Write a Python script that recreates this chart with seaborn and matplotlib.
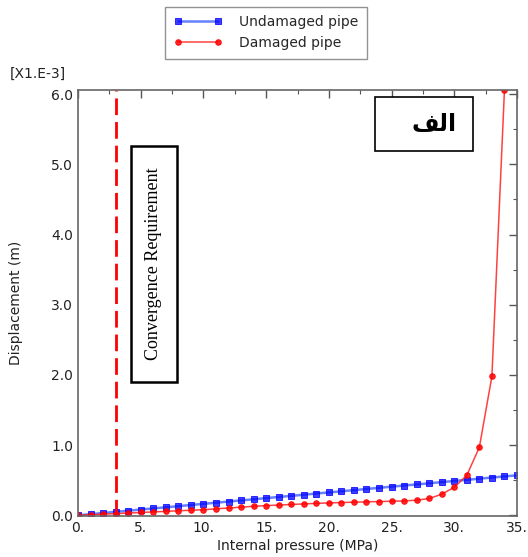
import matplotlib
matplotlib.use("Agg")
import matplotlib.pyplot as plt
from matplotlib.patches import Rectangle
from matplotlib.ticker import MultipleLocator, FixedLocator, FixedFormatter
import seaborn as sns
import pandas as pd

sns.set_theme(style="white")
plt.rcParams["font.family"] = ["DejaVu Sans"]

# Internal pressure (MPa) and displacement (x1e-3 m)
pressure_undamaged = list(range(0, 36))
disp_undamaged = [0.000, 0.016, 0.033, 0.049, 0.065, 0.082, 0.098, 0.114, 0.130,
                  0.147, 0.163, 0.179, 0.196, 0.212, 0.228, 0.245, 0.261, 0.277,
                  0.293, 0.310, 0.326, 0.342, 0.359, 0.375, 0.391, 0.408, 0.424,
                  0.440, 0.456, 0.473, 0.489, 0.505, 0.522, 0.538, 0.554, 0.570]

pressure_damaged = list(range(0, 35))
disp_damaged = [0.000, 0.008, 0.016, 0.024, 0.032, 0.040, 0.048, 0.056, 0.064,
                0.072, 0.080, 0.092, 0.104, 0.116, 0.128, 0.138, 0.146, 0.154,
                0.162, 0.170, 0.176, 0.182, 0.187, 0.192, 0.196, 0.200, 0.205,
                0.215, 0.240, 0.300, 0.400, 0.570, 0.970, 1.980, 6.060]

convergence_pressure = 3.0

x_ticks = [0, 5, 10, 15, 20, 25, 30, 35]
x_tick_labels = ["0.", "5.", "10.", "15.", "20.", "25.", "30.", "35."]
y_ticks = [0, 1, 2, 3, 4, 5, 6]
y_tick_labels = ["0.0", "1.0", "2.0", "3.0", "4.0", "5.0", "6.0"]

df_u = pd.DataFrame({"p": pressure_undamaged, "d": disp_undamaged})
df_d = pd.DataFrame({"p": pressure_damaged, "d": disp_damaged})

fig = plt.figure(figsize=(5.28, 5.57), dpi=100)
ax = fig.add_axes([78 / 528, 1 - 516 / 557, (517 - 78) / 528, (516 - 90) / 557])

sns.lineplot(data=df_u, x="p", y="d", ax=ax, color="#3355ff", linewidth=1.8,
             alpha=0.75, marker="s", markersize=4.2, markerfacecolor="#0000ff",
             markeredgecolor="#0000ff", label="Undamaged pipe", clip_on=True)
sns.lineplot(data=df_d, x="p", y="d", ax=ax, color="#ff2020", linewidth=1.1,
             alpha=0.85, marker="o", markersize=4.0, markerfacecolor="#ff0000",
             markeredgecolor="#ff0000", label="Damaged pipe", clip_on=True)

ax.axvline(convergence_pressure, color="#ff0000", linestyle=(0, (6, 2.5)),
           linewidth=2.0)

ax.set_xlim(0, 35)
ax.set_ylim(-0.01, 6.06)
ax.xaxis.set_major_locator(FixedLocator(x_ticks))
ax.xaxis.set_major_formatter(FixedFormatter(x_tick_labels))
ax.yaxis.set_major_locator(FixedLocator(y_ticks))
ax.yaxis.set_major_formatter(FixedFormatter(y_tick_labels))
ax.xaxis.set_minor_locator(MultipleLocator(2.5))
ax.yaxis.set_minor_locator(MultipleLocator(0.5))
ax.tick_params(which="both", direction="in", top=True, right=True,
               color="#555555", labelsize=10, labelcolor="#222222")
ax.tick_params(which="major", length=6, width=1)
ax.tick_params(which="minor", length=3, width=0.8)
for s in ax.spines.values():
    s.set_color("#666666")
    s.set_linewidth(1.2)

ax.set_xlabel("Internal pressure (MPa)", fontsize=10, color="#222222", labelpad=3)
ax.set_ylabel("Displacement (m)", fontsize=10, color="#222222", labelpad=20)

fig.text(10 / 528, 1 - 74 / 557, "[X1.E-3]", fontsize=10, color="#222222",
         va="center", ha="left")

# Annotation boxes
ax.add_patch(Rectangle((4.2, 1.9), 3.7, 3.36, facecolor="white",
                       edgecolor="black", linewidth=1.8, zorder=4))
ax.text(6.05, 3.58, "Convergence Requirement", rotation=90, ha="center",
        va="center", fontsize=13, family=["Liberation Serif"], color="black",
        zorder=5)
ax.add_patch(Rectangle((23.7, 5.19), 7.8, 0.77, facecolor="white",
                       edgecolor="black", linewidth=1.2, zorder=4))
ax.text(28.4, 5.57, "\uFED2\uFEDF\uFE8D", ha="center", va="center",
        fontsize=17, fontweight="bold", family=["DejaVu Sans"], color="black",
        zorder=5)

leg = ax.legend(loc="upper center", bbox_to_anchor=(266 / 528, 1 - 0 / 557),
                bbox_transform=fig.transFigure, numpoints=2, fontsize=10,
                frameon=True, fancybox=False, edgecolor="#777777",
                handlelength=3.5, borderpad=0.6, labelspacing=0.5,
                handletextpad=1.2)
leg.get_frame().set_linewidth(1.0)

fig.savefig("out.png", dpi=100)
